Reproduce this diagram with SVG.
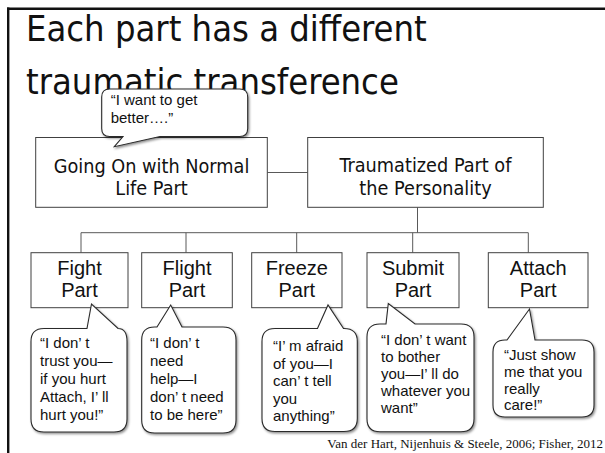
<svg xmlns="http://www.w3.org/2000/svg" width="605" height="453" viewBox="0 0 605 453">
<defs>
<style>
.title{font-family:"DejaVu Sans Condensed","DejaVu Sans",sans-serif;font-stretch:condensed;font-size:36px;fill:#111}
.big{font-family:"DejaVu Sans Condensed","DejaVu Sans",sans-serif;font-stretch:condensed;font-size:19.7px;fill:#111;text-anchor:middle}
.part{font-family:"Liberation Sans",Arial,sans-serif;font-size:20px;fill:#111;text-anchor:middle}
.say{font-family:"Liberation Sans",Arial,sans-serif;font-size:15px;fill:#111}
.box{fill:#fff;stroke:#404040;stroke-width:1}
.bub{fill:#fff;stroke:#2a2a2a;stroke-width:1.1;filter:url(#sh)}
.cite{font-family:"Liberation Serif","Times New Roman",serif;font-size:13px;fill:#111;text-anchor:end}
</style>
<filter id="sh" x="-10%" y="-10%" width="130%" height="130%">
<feDropShadow dx="1.2" dy="1.5" stdDeviation="0.9" flood-color="#000" flood-opacity="0.45"/>
</filter>
</defs>
<rect width="605" height="453" fill="#fff"/>
<g id="frame" stroke="#111" stroke-width="2.4" fill="none">
<line x1="8.2" y1="7.6" x2="8.2" y2="453"/>
<line x1="7" y1="8.8" x2="605" y2="8.8"/>
</g>
<g id="title">
<text class="title" x="26" y="41">Each part has a different</text>
<text class="title" x="26" y="94">traumatic transference</text>
</g>
<g id="connectors" stroke="#595959" stroke-width="1" fill="none">
<line x1="267.3" y1="172.5" x2="307.7" y2="172.5"/>
<line x1="417.5" y1="207.3" x2="417.5" y2="232.7"/>
<line x1="81" y1="232.7" x2="528.3" y2="232.7"/>
<line x1="81" y1="232.7" x2="81" y2="252.7"/>
<line x1="186" y1="232.7" x2="186" y2="252.7"/>
<line x1="296.7" y1="232.7" x2="296.7" y2="252.7"/>
<line x1="412.7" y1="232.7" x2="412.7" y2="252.7"/>
<line x1="528.3" y1="232.7" x2="528.3" y2="252.7"/>
</g>
<g id="normal">
<rect class="box" x="35.7" y="137.5" width="231.6" height="69.8"/>
<text class="big" x="151.5" y="172.5">Going On with Normal</text>
<text class="big" x="151.5" y="195">Life Part</text>
</g>
<g id="traumatized">
<rect class="box" x="307.7" y="137.5" width="235.6" height="69.8"/>
<text class="big" x="425.5" y="172">Traumatized Part of</text>
<text class="big" x="425.5" y="195">the Personality</text>
</g>
<g id="fight">
<rect class="box" x="31" y="252.7" width="97" height="55"/>
<text class="part" x="79.5" y="275">Fight</text>
<text class="part" x="79.5" y="296.7">Part</text>
</g>
<g id="flight">
<rect class="box" x="141.7" y="252.7" width="90.6" height="55"/>
<text class="part" x="187" y="275">Flight</text>
<text class="part" x="187" y="296.7">Part</text>
</g>
<g id="freeze">
<rect class="box" x="251.7" y="252.7" width="90.3" height="55"/>
<text class="part" x="296.8" y="275">Freeze</text>
<text class="part" x="296.8" y="296.7">Part</text>
</g>
<g id="submit">
<rect class="box" x="367" y="252.7" width="92" height="55"/>
<text class="part" x="413" y="275">Submit</text>
<text class="part" x="413" y="296.7">Part</text>
</g>
<g id="attach">
<rect class="box" x="488.3" y="252.7" width="99.7" height="55"/>
<text class="part" x="538.2" y="275">Attach</text>
<text class="part" x="538.2" y="296.7">Part</text>
</g>
<g id="bubble-normal">
<path class="bub" d="M109.7,89 H239.7 Q247.7,89 247.7,97 V128.5 Q247.7,136.5 239.7,136.5 H160 L114.3,146.7 L123,136.5 H109.7 Q101.7,136.5 101.7,128.5 V97 Q101.7,89 109.7,89 Z"/>
<text class="say" x="110.7" y="105">“I want to get</text>
<text class="say" x="110.7" y="123">better….”</text>
</g>
<g id="bubble-fight">
<path class="bub" d="M44,328.5 H87 L91.5,304 L118,328.5 Q127,328.5 127,341.5 V419 Q127,432 114,432 H44 Q31,432 31,419 V341.5 Q31,328.5 44,328.5 Z"/>
<text class="say" x="40" y="348"><tspan x="40">“I don’ t</tspan><tspan x="40" dy="18">trust you—</tspan><tspan x="40" dy="18">if you hurt</tspan><tspan x="40" dy="18">Attach, I’ ll</tspan><tspan x="40" dy="18">hurt you!”</tspan></text>
</g>
<g id="bubble-flight">
<path class="bub" d="M154.7,327 H157 L170.7,305 L182,327 H223 Q236,327 236,340 V420 Q236,433 223,433 H154.7 Q141.7,433 141.7,420 V340 Q141.7,327 154.7,327 Z"/>
<text class="say" x="150" y="348"><tspan x="150">“I don’ t</tspan><tspan x="150" dy="18">need</tspan><tspan x="150" dy="18">help—I</tspan><tspan x="150" dy="18">don’ t need</tspan><tspan x="150" dy="18">to be here”</tspan></text>
</g>
<g id="bubble-freeze">
<path class="bub" d="M275,328.5 H317.5 L328,305 L343.5,328.5 H344 Q357.3,328.5 357.3,341.5 V418.5 Q357.3,431.5 344,431.5 H275 Q262,431.5 262,418.5 V341.5 Q262,328.5 275,328.5 Z"/>
<text class="say" x="273" y="351"><tspan x="273">“I’ m afraid</tspan><tspan x="273" dy="17.5">of you—I</tspan><tspan x="273" dy="17.5">can’ t tell</tspan><tspan x="273" dy="17.5">you</tspan><tspan x="273" dy="17.5">anything”</tspan></text>
</g>
<g id="bubble-submit">
<path class="bub" d="M380,324 H386 L388.3,303.5 L415,324 H461 Q474,324 474,337 V418.7 Q474,431.7 461,431.7 H380 Q367,431.7 367,418.7 V337 Q367,324 380,324 Z"/>
<text class="say" x="381" y="345"><tspan x="381">“I don’ t want</tspan><tspan x="381" dy="17">to bother</tspan><tspan x="381" dy="17">you—I’ ll do</tspan><tspan x="381" dy="17">whatever you</tspan><tspan x="381" dy="17">want”</tspan></text>
</g>
<g id="bubble-attach">
<path class="bub" d="M505,340 H507 L529.5,309 L535,340 H582 Q594,340 594,352 V405 Q594,417 582,417 H505 Q493,417 493,405 V352 Q493,340 505,340 Z"/>
<text class="say" x="504" y="360"><tspan x="504">“Just show</tspan><tspan x="504" dy="16.8">me that you</tspan><tspan x="504" dy="16.8">really</tspan><tspan x="504" dy="16.8">care!”</tspan></text>
</g>
<text class="cite" x="603" y="448">Van der Hart, Nijenhuis &amp; Steele, 2006; Fisher, 2012</text>
</svg>
